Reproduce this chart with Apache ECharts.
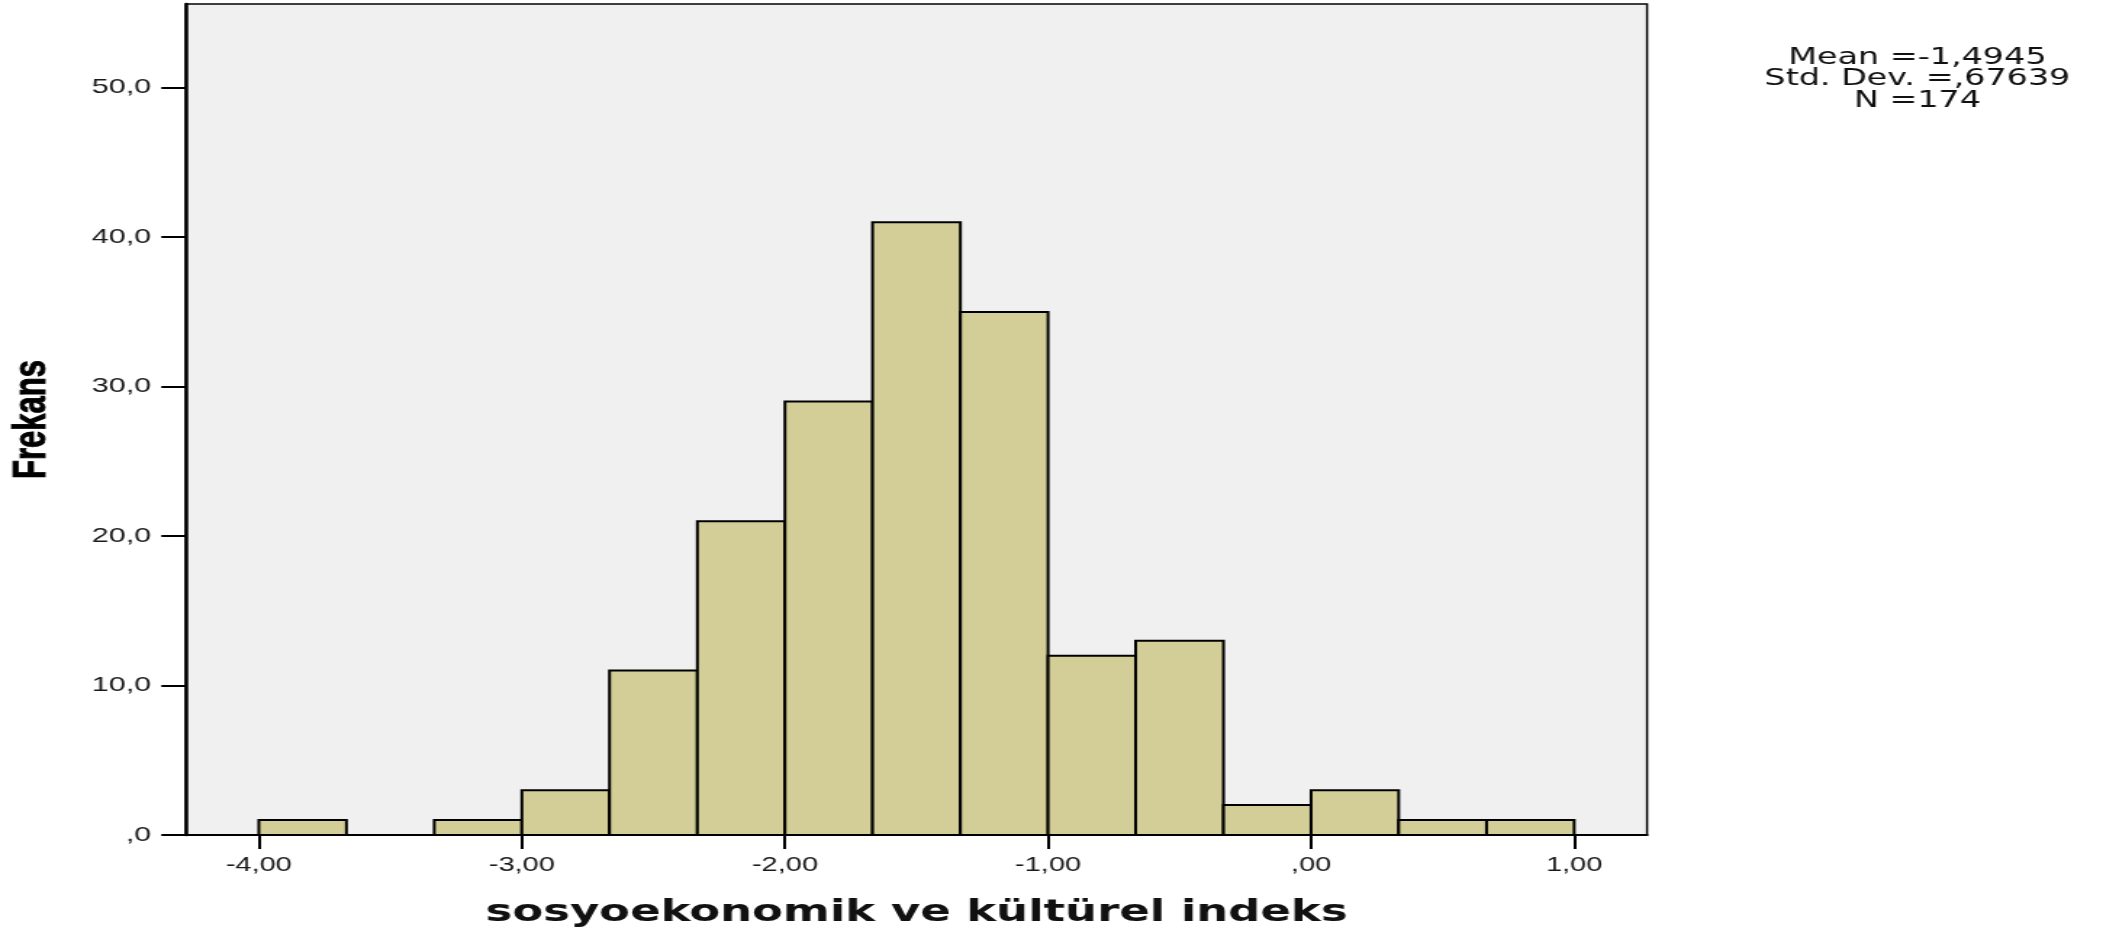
<!DOCTYPE html>
<html><head><meta charset="utf-8">
<script src="https://cdn.jsdelivr.net/npm/echarts@6/dist/echarts.min.js"></script>
<style>
html,body{margin:0;padding:0;background:#fff;overflow:hidden;width:2103px;height:928px;}
#chart{width:1450px;height:928px;transform:scaleX(1.450345);transform-origin:0 0;}
</style></head><body><div id="chart"></div>
<script>
// Histogram bins (lower/upper edges) and frequencies
const binEdges = [-4.000, -3.667, -3.333, -3.000, -2.667, -2.333, -2.000, -1.667, -1.333, -1.000, -0.667, -0.333, 0.000, 0.333, 0.667, 1.000];
const frequencies = [1, 0, 1, 3, 11, 21, 29, 41, 35, 12, 13, 2, 3, 1, 1];
const xTickValues = [-4, -3, -2, -1, 0, 1];
const yTickValues = [0, 10, 20, 30, 40, 50];
const statsLines = ['Mean =-1,4945', 'Std. Dev. =,67639', 'N =174'];
const xTitle = 'sosyoekonomik ve kültürel indeks';
const yTitle = 'Frekans';

const histData = frequencies.map((f, i) => [binEdges[i], binEdges[i + 1], f]);

function spssNum(v, d) {
  return v.toFixed(d).replace('.', ',').replace(/^(-?)0,/, '$1,');
}

const chart = echarts.init(document.getElementById('chart'));
chart.setOption({
  animation: false,
  backgroundColor: '#ffffff',
  grid: {
    left: 128.2, right: 314.4, top: 4, bottom: 93,
    outerBoundsMode: 'none', containLabel: false,
    show: true, backgroundColor: '#F0F0F0', borderColor: '#000', borderWidth: 1.5
  },
  xAxis: {
    type: 'value', min: -4.277, max: 1.277,
    splitLine: { show: false },
    axisLine: { show: true, onZero: false, lineStyle: { color: '#000', width: 2 } },
    axisTick: { show: true, length: 14, customValues: xTickValues, lineStyle: { color: '#000', width: 2 } },
    axisLabel: {
      customValues: xTickValues, margin: 20, fontSize: 20, color: '#1a1a1a',
      fontFamily: "'Liberation Sans', Arial, sans-serif",
      formatter: v => spssNum(v, 2)
    },
    name: xTitle, nameLocation: 'middle', nameGap: 62,
    nameTextStyle: { fontFamily: "'DejaVu Sans', Verdana, sans-serif", fontWeight: 'bold', fontSize: 31, color: '#111' }
  },
  yAxis: {
    type: 'value', min: 0, max: 55.6, interval: 10,
    splitLine: { show: false },
    axisLine: { show: true, onZero: false, lineStyle: { color: '#000', width: 2.5 } },
    axisTick: { show: true, length: 17, customValues: yTickValues, lineStyle: { color: '#000', width: 2 } },
    axisLabel: {
      customValues: yTickValues, margin: 24, fontSize: 21, color: '#1a1a1a',
      fontFamily: "'Liberation Sans', Arial, sans-serif",
      formatter: v => spssNum(v, 1)
    },
    name: yTitle, nameLocation: 'middle', nameGap: 90,
    nameTextStyle: { fontFamily: "'Liberation Sans', Arial, sans-serif", fontWeight: 'bold', fontSize: 31, color: '#000',
      textBorderColor: '#000', textBorderWidth: 0.8 }
  },
  graphic: [{
    type: 'text', x: 1322, y: 47,
    style: {
      text: statsLines.join('\n'), textAlign: 'center', textVerticalAlign: 'top',
      fontFamily: "'DejaVu Sans', sans-serif", fontSize: 23, lineHeight: 21.5, fill: '#111'
    }
  }],
  series: [{
    type: 'custom',
    data: histData,
    encode: { x: [0, 1], y: 2 },
    renderItem: function (params, api) {
      const lo = api.value(0), hi = api.value(1), c = api.value(2);
      if (!c) return { type: 'group', children: [] };
      const p0 = api.coord([lo, 0]);
      const p1 = api.coord([hi, c]);
      return {
        type: 'rect',
        shape: { x: p0[0], y: p1[1], width: p1[0] - p0[0], height: p0[1] - p1[1] },
        style: { fill: '#D3CE97', stroke: '#000', lineWidth: 2 }
      };
    }
  }]
});
</script></body></html>
